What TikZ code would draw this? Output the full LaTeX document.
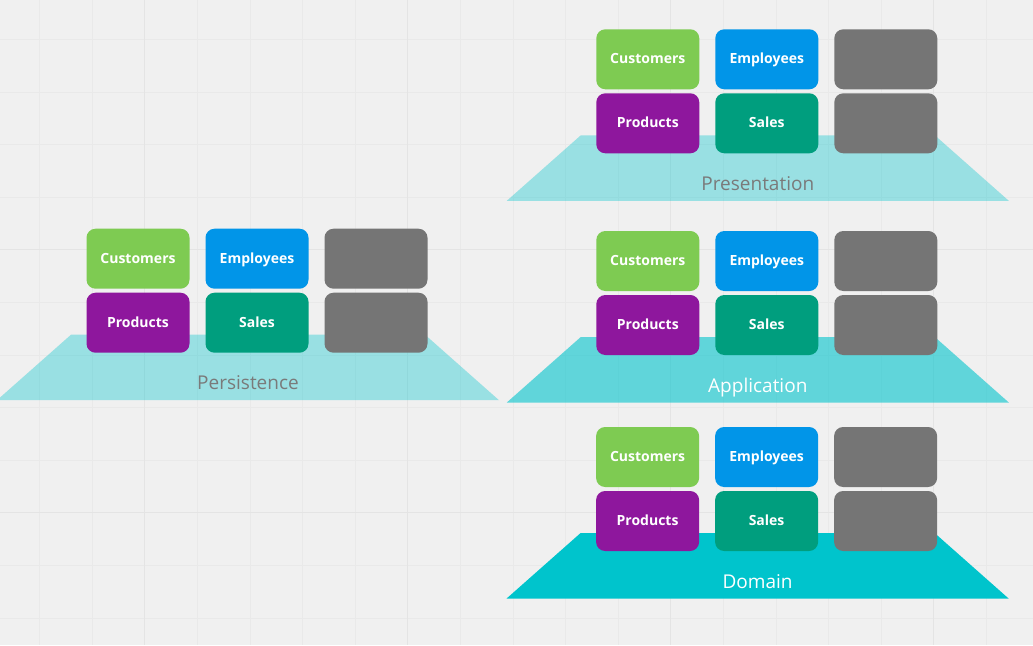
\documentclass[tikz,border=0pt]{standalone}
\usepackage{fontspec}
\setmainfont{Open Sans}
\definecolor{bg}{HTML}{F0F0F0}
\definecolor{gridminor}{HTML}{E9E9E9}
\definecolor{gridmajor}{HTML}{E4E4E4}
\definecolor{cgreen}{HTML}{7ECB52}
\definecolor{cblue}{HTML}{0195E8}
\definecolor{cpurple}{HTML}{8E179D}
\definecolor{cteal}{HTML}{009E7E}
\definecolor{cgray}{HTML}{757575}
\definecolor{ccyan}{HTML}{00C4CC}
\definecolor{labgray}{HTML}{7A7A7A}
\tikzset{
  box/.style={rounded corners=9pt, minimum width=103pt, minimum height=60pt, inner sep=0pt,
    text height=8.6pt, text depth=0pt,
    text=white, font=\fontsize{14}{16}\selectfont\bfseries},
  layertext/.style={font=\fontsize{19}{22}\selectfont, inner sep=0pt, text height=14pt, text depth=0pt},
}
\newcommand{\layerblock}[6]{%
  % #1 prefix, #2 centre x, #3 top y of plane, #4 label, #5 opacity, #6 label colour
  \fill[ccyan, fill opacity=#5] ({#2-177},#3) -- ({#2+177},#3) -- ({#2+251},{#3+65.5}) -- ({#2-251},{#3+65.5}) -- cycle;
  \node[layertext, text=#6] (#1label) at (#2,{#3+48}) {#4};
  \node[box, fill=cgreen]  (#1cust) at ({#2-110},{#3-76}) {Customers};
  \node[box, fill=cblue]   (#1emp)  at ({#2+9},{#3-76}) {Employees};
  \node[box, fill=cgray]   (#1g1)   at ({#2+128},{#3-76}) {};
  \node[box, fill=cpurple] (#1prod) at ({#2-110},{#3-12}) {Products};
  \node[box, fill=cteal]   (#1sales) at ({#2+9},{#3-12}) {Sales};
  \node[box, fill=cgray]   (#1g2)   at ({#2+128},{#3-12}) {};
}
\begin{document}
\begin{tikzpicture}[x=1pt,y=-1pt]
\useasboundingbox (0,0) rectangle (1033,645);
\fill[bg] (0,0) rectangle (1033,645);
\foreach \i in {0,...,19} {
  \draw[gridminor, line width=1pt] ({39.7+52.6*\i},0) -- ({39.7+52.6*\i},645);
}
\foreach \i in {0,...,11} {
  \draw[gridminor, line width=1pt] (0,{39.5+52.6*\i}) -- (1033,{39.5+52.6*\i});
}
\foreach \i in {0,...,3} {
  \draw[gridmajor, line width=1.2pt] ({144.8+263*\i},0) -- ({144.8+263*\i},645);
}
\foreach \i in {0,1} {
  \draw[gridmajor, line width=1.2pt] (0,{249.5+263*\i}) -- (1033,{249.5+263*\i});
}
\layerblock{pres}{757.8}{135.3}{Presentation}{0.36}{labgray}
\layerblock{app}{757.8}{337}{Application}{0.6}{white}
\layerblock{dom}{757.6}{533}{Domain}{1}{white}
\layerblock{pers}{248}{334.7}{Persistence}{0.36}{labgray}
\end{tikzpicture}
\end{document}
